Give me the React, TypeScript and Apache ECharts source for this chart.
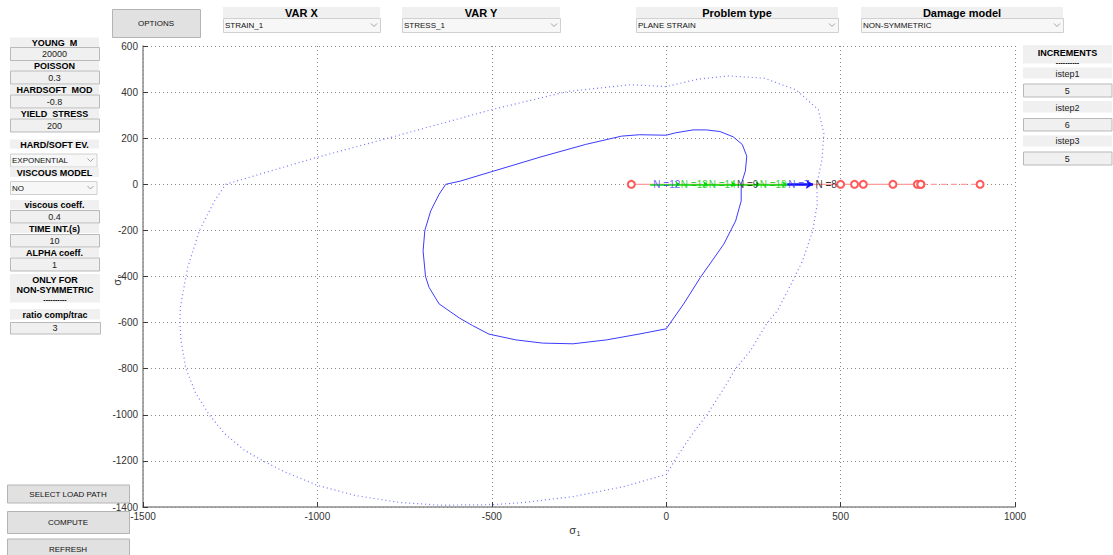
import { useEffect, useRef } from 'react';
import * as echarts from 'echarts';

// Damage surface (dotted) in principal stress space: sigma_1 / sigma_2 pairs
const outerSigma1 = [-1263, -1013, -795, -500, -282, -103, 0, 90, 179, 282, 372, 436, 452, 447, 432, 433, 420, 391, 358, 319, 290, 242, 199, 156, 117, 69, 31, 0, -123, -267, -412, -500, -651, -766, -891, -1000, -1093, -1156, -1209, -1266, -1310, -1348, -1377, -1391, -1394, -1393, -1372, -1338, -1295, -1263];
const outerSigma2 = [0, 112, 201, 324, 403, 432, 424, 456, 470, 460, 410, 324, 220, 110, 0, -87, -202, -332, -433, -548, -600, -721, -800, -908, -999, -1096, -1182, -1259, -1312, -1355, -1381, -1390, -1392, -1380, -1350, -1306, -1248, -1200, -1154, -1082, -1000, -909, -800, -678, -600, -534, -361, -200, -72, 0];

// Current (solid) damage surface
const innerSigma1 = [-632, -590, -500, -359, -231, -128, -77, 0, 26, 77, 115, 154, 192, 218, 231, 227, 215, 215, 199, 165, 98, 50, 0, -75, -171, -267, -354, -431, -508, -555, -593, -651, -680, -690, -697, -692, -675, -651, -632];
const innerSigma2 = [0, 14, 55, 119, 173, 209, 215, 213, 223, 236, 236, 229, 206, 173, 122, 58, 0, -72, -159, -260, -404, -519, -627, -649, -675, -692, -689, -675, -650, -613, -580, -519, -447, -400, -289, -200, -115, -43, 0];

// Load path points along sigma_1 (sigma_2 = 0)
const loadPathSolid = [-100, 500, 540, 565, 650, 720, 730];
const loadPathDashed = [730, 900];

// Stress increments drawn as arrows along sigma_1
const greenSteps = [-46, 40, 120, 200, 270, 347];
const blueSteps = [347, 421];

// Step tags
const tagText = ['N =12', 'N =13', 'N =14', 'N =9', 'N =10', 'N =7', 'N =8'];
const tagSigma1 = [-37, 42, 122, 203, 268, 350, 428];
const tagColor = ['#4040ff', '#00c800', '#00c800', '#222222', '#00c800', '#4040ff', '#000000'];

const xTicks = { min: -1500, max: 1000, interval: 500 };
const yTicks = { min: -1400, max: 600, interval: 200 };

const FONT = '"Liberation Sans", Arial, sans-serif';

function txt(x: number, y: number, text: string, size: number, bold = false, align = 'center', color = '#000') {
  return {
    type: 'text', x, y, z: 20,
    style: {
      text, fill: color, font: `${bold ? 'bold ' : ''}${size}px ${FONT}`,
      textAlign: align, align, textVerticalAlign: 'middle', verticalAlign: 'middle',
    },
  };
}
function rect(x: number, y: number, w: number, h: number, fill: string, stroke?: string) {
  return {
    type: 'rect', z: 10,
    shape: { x, y, width: w, height: h },
    style: { fill, stroke: stroke || null, lineWidth: stroke ? 1 : 0 },
  };
}
function labelCell(x: number, y: number, w: number, h: number, text: string, size = 9) {
  return [rect(x, y, w, h, '#f0f0f0'), txt(x + w / 2, y + h / 2 + 0.5, text, size, true)];
}
function editBox(x: number, y: number, w: number, h: number, text: string) {
  return [rect(x + 0.5, y + 0.5, w, h, '#f0f0f0', '#b9b9b9'), txt(x + w / 2, y + h / 2 + 0.5, text, 9, false, 'center', '#222')];
}
function button(x: number, y: number, w: number, h: number, text: string) {
  return [rect(x + 0.5, y + 0.5, w, h, '#e1e1e1', '#b4b4b4'), txt(x + w / 2, y + h / 2 + 0.5, text, 8, false, 'center', '#111')];
}
function dropdown(x: number, y: number, w: number, h: number, text: string) {
  const cx = x + w - 6;
  const cy = y + h / 2;
  return [
    rect(x + 0.5, y + 0.5, w, h, '#f7f7f7', '#d0d0d0'),
    txt(x + 2, cy + 0.5, text, 8, false, 'left', '#111'),
    {
      type: 'polyline', z: 20,
      shape: { points: [[cx - 3, cy - 1.5], [cx, cy + 1.5], [cx + 3, cy - 1.5]] },
      style: { stroke: '#8a8a8a', fill: null, lineWidth: 0.8 },
    },
  ];
}

function buildGraphics() {
  const g: any[] = [];
  // top bar
  g.push(...button(112, 9, 88, 28, 'OPTIONS'));
  g.push(...labelCell(223, 7, 157, 11, 'VAR X', 11));
  g.push(...dropdown(223, 18, 157, 14, 'STRAIN_1'));
  g.push(...labelCell(402, 7, 158, 11, 'VAR Y', 11));
  g.push(...dropdown(402, 18, 158, 14, 'STRESS_1'));
  g.push(...labelCell(636, 7, 202, 11, 'Problem type', 11));
  g.push(...dropdown(636, 18, 202, 14, 'PLANE STRAIN'));
  g.push(...labelCell(861, 7, 202, 11, 'Damage model', 11));
  g.push(...dropdown(861, 18, 202, 14, 'NON-SYMMETRIC'));

  // left panel
  g.push(...labelCell(10, 37.5, 89, 9.5, 'YOUNG  M'));
  g.push(...editBox(10, 47, 89, 13, '20000'));
  g.push(...labelCell(10, 61, 89, 9.5, 'POISSON'));
  g.push(...editBox(10, 70.5, 89, 13, '0.3'));
  g.push(...labelCell(10, 85, 89, 9.5, 'HARDSOFT  MOD'));
  g.push(...editBox(10, 94.5, 89, 13, '-0.8'));
  g.push(...labelCell(10, 109, 89, 9.5, 'YIELD  STRESS'));
  g.push(...editBox(10, 118.5, 89, 13, '200'));
  g.push(...labelCell(10, 139.5, 89, 9, 'HARD/SOFT EV.'));
  g.push(...dropdown(10, 153.5, 86.5, 13, 'EXPONENTIAL'));
  g.push(...labelCell(10, 167.5, 89, 9.5, 'VISCOUS MODEL'));
  g.push(...dropdown(10, 181, 86.5, 13, 'NO'));
  g.push(...labelCell(10, 200, 89, 9.5, 'viscous coeff.'));
  g.push(...editBox(10, 210, 89, 12.5, '0.4'));
  g.push(...labelCell(10, 224, 89, 9, 'TIME INT.(s)'));
  g.push(...editBox(10, 234, 89, 12.5, '10'));
  g.push(...labelCell(10, 248, 89, 9, 'ALPHA coeff.'));
  g.push(...editBox(10, 257.5, 89, 13, '1'));
  g.push(rect(10, 274, 90, 28.5, '#f0f0f0'));
  g.push(txt(55, 279.8, 'ONLY FOR', 9, true));
  g.push(txt(55, 290.3, 'NON-SYMMETRIC', 9, true));
  g.push(txt(55, 299.5, '----------', 7, true));
  g.push(...labelCell(10, 309, 90, 10.5, 'ratio comp/trac'));
  g.push(...editBox(10, 322, 90, 11.5, '3'));

  // bottom-left buttons
  g.push(...button(7, 484.5, 122, 18, 'SELECT LOAD PATH'));
  g.push(...button(7, 511, 122, 22, 'COMPUTE'));
  g.push(...button(7, 538.5, 122, 20, 'REFRESH'));

  // right panel
  g.push(rect(1023, 45, 89, 18.5, '#f0f0f0'));
  g.push(txt(1067.5, 52.5, 'INCREMENTS', 9, true));
  g.push(txt(1067.5, 62, '----------', 7, true));
  g.push(rect(1023, 67.5, 89, 11, '#f0f0f0'));
  g.push(txt(1067.5, 73.5, 'istep1', 9, false, 'center', '#222'));
  g.push(...editBox(1023, 83.5, 88.5, 13, '5'));
  g.push(rect(1023, 101, 89, 11.5, '#f0f0f0'));
  g.push(txt(1067.5, 107.5, 'istep2', 9, false, 'center', '#222'));
  g.push(...editBox(1023, 118, 88.5, 12.5, '6'));
  g.push(rect(1023, 135.5, 89, 11, '#f0f0f0'));
  g.push(txt(1067.5, 141, 'istep3', 9, false, 'center', '#222'));
  g.push(...editBox(1023, 151.5, 88.5, 13, '5'));

  // axis titles: sigma_1 (horizontal) and sigma_2 (vertical)
  g.push({
    type: 'group', x: 576, y: 530,
    children: [
      txt(0, 0, 'σ', 11, false, 'right', '#333'),
      txt(0.5, 3.5, '1', 7, false, 'left', '#333'),
    ],
  });
  g.push({
    type: 'group', x: 117, y: 279, rotation: Math.PI / 2,
    children: [
      txt(0, 0, 'σ', 11, false, 'right', '#333'),
      txt(0.5, 3.5, '2', 7, false, 'left', '#333'),
    ],
  });
  return g;
}

function zip(a: number[], b: number[]) {
  return a.map((v, i) => [v, b[i]]);
}
function segments(xs: number[]) {
  const out: any[] = [];
  for (let i = 0; i < xs.length - 1; i++) out.push([{ coord: [xs[i], 0] }, { coord: [xs[i + 1], 0] }]);
  return out;
}

export default function App() {
  const ref = useRef<HTMLDivElement>(null);
  useEffect(() => {
    if (!ref.current) return;
    const chart = echarts.init(ref.current, undefined, { renderer: 'svg' });
    const axisCommon = {
      type: 'value',
      axisLine: { show: true, onZero: false, lineStyle: { color: '#8c8c8c', width: 1.5 } },
      axisTick: { show: true, inside: true, length: 5, lineStyle: { color: '#3a3a3a', width: 1 } },
      axisLabel: { color: '#333', fontFamily: FONT, fontSize: 10, formatter: (v: number) => String(v) },
      splitLine: { show: true, lineStyle: { color: '#8a8a8a', type: [1, 3], width: 1 } },
    };
    chart.setOption({
      animation: false,
      backgroundColor: '#ffffff',
      textStyle: { fontFamily: FONT },
      grid: { left: 143, top: 46, right: 98, bottom: 48, containLabel: false },
      xAxis: {
        ...axisCommon,
        ...xTicks,
        axisLabel: { ...axisCommon.axisLabel, margin: 4 },
      },
      yAxis: {
        ...axisCommon,
        ...yTicks,
        axisLabel: { ...axisCommon.axisLabel, margin: 5 },
      },
      series: [
        {
          type: 'line', name: 'outer', data: zip(outerSigma1, outerSigma2), showSymbol: false,
          lineStyle: { color: '#7575ff', width: 1.2, type: [1, 3] }, silent: true, z: 2,
        },
        {
          type: 'line', name: 'inner', data: zip(innerSigma1, innerSigma2), showSymbol: false,
          lineStyle: { color: '#3b3bff', width: 1 }, silent: true, z: 3,
        },
        {
          type: 'line', name: 'path', data: loadPathSolid.map((v) => [v, 0]),
          symbol: 'emptyCircle', symbolSize: 7, showSymbol: true,
          itemStyle: { color: '#ff5a5a', borderWidth: 1 },
          lineStyle: { color: '#ff9c9c', width: 1.2 }, silent: true, z: 4,
        },
        {
          type: 'line', name: 'pathEnd', data: loadPathDashed.map((v) => [v, 0]),
          symbol: 'emptyCircle', symbolSize: 7, showSymbol: true,
          itemStyle: { color: '#ff5a5a', borderWidth: 1 },
          lineStyle: { color: '#ff9c9c', width: 1.2, type: [6, 4] }, silent: true, z: 4,
        },
        {
          type: 'line', name: 'green', data: [], silent: true, z: 5,
          markLine: {
            silent: true, symbol: ['none', 'arrow'], symbolSize: [5, 5], animation: false,
            label: { show: false },
            lineStyle: { color: '#00e000', width: 1.5, type: 'solid' },
            data: segments(greenSteps),
          },
        },
        {
          type: 'line', name: 'blue', data: [], silent: true, z: 6,
          markLine: {
            silent: true, symbol: ['none', 'arrow'], symbolSize: [7, 7], animation: false,
            label: { show: false },
            lineStyle: { color: '#1010ff', width: 2.5, type: 'solid' },
            data: segments(blueSteps),
          },
        },
        {
          type: 'scatter', name: 'tags', symbolSize: 0, silent: true, z: 20,
          data: tagText.map((t, i) => ({
            value: [tagSigma1[i], 0, t],
            label: {
              show: true, position: 'right', distance: 0, formatter: t,
              color: tagColor[i], fontFamily: FONT, fontSize: 10,
            },
          })),
        },
      ],
      graphic: { elements: buildGraphics() },
    });
    return () => chart.dispose();
  }, []);
  return (
    <div
      ref={ref}
      style={{ position: 'fixed', left: 0, top: 0, width: 1113, height: 555, background: '#fff' }}
    />
  );
}
